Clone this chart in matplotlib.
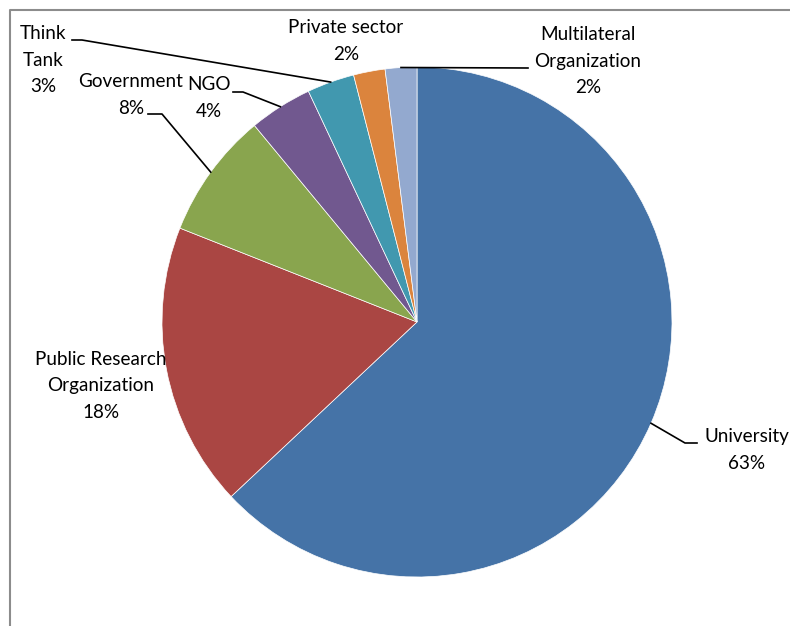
import numpy as np
import matplotlib
matplotlib.use('Agg')
import matplotlib.pyplot as plt

# share of respondents by type of institution
categories = ["University", "Public Research\nOrganization", "Government", "NGO",
              "Think\nTank", "Private sector", "Multilateral\nOrganization"]
shares = [63, 18, 8, 4, 3, 2, 2]
colors = ["#4573A7", "#AA4643", "#89A54E", "#71588F", "#4198AF", "#DB843D", "#93A9CF"]

# label block centres and leader elbows, in pixels from the top-left corner
label_pos = [(747, 450), (101, 386), (131, 95), (209, 98), (43, 60), (346, 41), (588, 61)]
elbows = [[(697, 443), (685, 443)], None, [(148, 114), (162, 114)], [(233, 92), (243, 92)],
          [(72, 40), (82, 40)], None, [(528, 68)]]

W, H = 790, 626
cx, cy, r = 417, 322, 255

plt.rcParams['font.family'] = ['Lato', 'DejaVu Sans']

fig = plt.figure(figsize=(W / 100, H / 100), dpi=100)
ax = fig.add_axes([0, 0, 1, 1])

wedges, _ = ax.pie(shares, colors=colors, startangle=90, counterclock=False,
                   center=(cx, H - cy), radius=r, frame=True,
                   wedgeprops=dict(linewidth=0.5, edgecolor='white'))
ax.set_xlim(0, W)
ax.set_ylim(0, H)
ax.set_aspect('equal')
ax.axis('off')

# chart area border (only the top and left edges fall inside the image)
ax.plot([10, 10, W], [0, H - 10, H - 10], color='#8c8c8c', lw=1.5)

for w, cat, val, (lx, ly), elb in zip(wedges, categories, shares, label_pos, elbows):
    ax.text(lx, H - ly, f"{cat}\n{val}%", ha='center', va='center',
            multialignment='center', fontsize=13.6, linespacing=1.68, color='black')
    if elb is None:
        continue
    mid = np.deg2rad((w.theta1 + w.theta2) / 2)
    ex, ey = w.center[0] + r * np.cos(mid), w.center[1] + r * np.sin(mid)
    xs = [p[0] for p in elb] + [ex]
    ys = [H - p[1] for p in elb] + [ey]
    ax.plot(xs, ys, color='black', lw=1.2)

fig.savefig("out.png", dpi=100)
